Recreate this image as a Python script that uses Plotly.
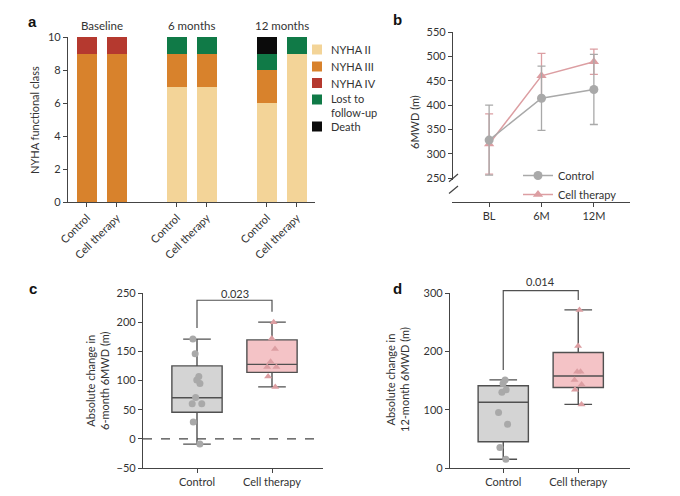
import plotly.graph_objects as go

W, H = 680, 496
FONT = "Lato"
AXIS_COL = "#444444"
TEXT_COL = "#333333"

# ---- panel a: NYHA class counts per arm (10 patients each)
timepoints = ["Baseline", "6 months", "12 months"]
arms = ["Control", "Cell therapy"]
nyha_names = ["NYHA II", "NYHA III", "NYHA IV", "Lost to<br>follow-up", "Death"]
# bar order: baseline ctrl, baseline cell, 6m ctrl, 6m cell, 12m ctrl, 12m cell
nyha_ii = [0, 0, 7, 7, 6, 9]
nyha_iii = [9, 9, 2, 2, 2, 0]
nyha_iv = [1, 1, 0, 0, 0, 0]
lost_fu = [0, 0, 1, 1, 1, 1]
death = [0, 0, 0, 0, 1, 0]
nyha_colors = ["#f3d498", "#d8822c", "#b5392f", "#107a47", "#0b0b0b"]

# ---- panel b: 6MWD over time (mean, sd)
visits = ["BL", "6M", "12M"]
ctrl_6mwd = [328, 414, 432]
ctrl_6mwd_sd = [72, 66, 72]
cell_6mwd = [320, 460, 489]
cell_6mwd_sd = [62, 46, 26]

# ---- panel c: change in 6MWD at 6 months
c_ctrl = [171, 146, 107, 101, 95, 71, 60, 60, 29, -9]
c_cell = [200, 172, 154, 132, 123, 123, 107, 89]
# q1, median, q3, lower whisker, upper whisker
c_ctrl_box = [45.5, 70.5, 125, -9, 171]
c_cell_box = [114, 127.7, 169.6, 89, 200]
c_pval = "0.023"

# ---- panel d: change in 6MWD at 12 months
d_ctrl = [151, 145, 134, 130, 95, 75, 35, 15]
d_cell = [271, 209, 165, 165, 151, 143, 134, 109]
d_ctrl_box = [45, 112.6, 141, 15, 151]
d_cell_box = [138, 157.7, 198, 109, 271]
d_pval = "0.014"

GRAY = "#a9a9a9"
PINK = "#dc9ea2"
BOX_LINE = "#505050"

# the page body adds an 8px margin, so screen px are shifted back by that
OFF = 8


def fx(px):
    return (px - OFF) / W


def fy(py):
    return 1 - (py - OFF) / H


fig = go.Figure()

# ---------------- a
xpos = [g * 3 + a for g in range(len(timepoints)) for a in range(len(arms))]
for name, vals, col in zip(nyha_names, [nyha_ii, nyha_iii, nyha_iv, lost_fu, death], nyha_colors):
    fig.add_trace(go.Bar(x=xpos, y=vals, name=name, marker_color=col,
                         marker_line_width=0, width=0.67, xaxis="x", yaxis="y",
                         showlegend=False, hoverinfo="skip"))

# ---------------- b
fig.add_trace(go.Scatter(x=visits, y=cell_6mwd, name="Cell therapy", mode="lines+markers",
                         line=dict(color=PINK, width=1.5),
                         marker=dict(symbol="triangle-up", size=9, color=PINK),
                         error_y=dict(type="data", array=cell_6mwd_sd, color=PINK,
                                      thickness=1.3, width=4),
                         xaxis="x2", yaxis="y2", legendrank=2))
fig.add_trace(go.Scatter(x=visits, y=ctrl_6mwd, name="Control", mode="lines+markers",
                         line=dict(color=GRAY, width=1.5),
                         marker=dict(symbol="circle", size=9, color=GRAY),
                         error_y=dict(type="data", array=ctrl_6mwd_sd, color=GRAY,
                                      thickness=1.3, width=4),
                         xaxis="x2", yaxis="y2", legendrank=1))


# ---------------- c and d boxes
def add_boxes(xa, ya, ctrl_pts, cell_pts, ctrl_box, cell_box):
    for arm, pts, st, fill, col, sym in [
        (arms[0], ctrl_pts, ctrl_box, "#d4d4d4", GRAY, "circle"),
        (arms[1], cell_pts, cell_box, "#f4c3c6", PINK, "triangle-up"),
    ]:
        fig.add_trace(go.Box(x=[arm], q1=[st[0]], median=[st[1]], q3=[st[2]],
                             lowerfence=[st[3]], upperfence=[st[4]],
                             fillcolor=fill, line=dict(color=BOX_LINE, width=1.4),
                             width=0.67, whiskerwidth=0.55, boxpoints=False,
                             showlegend=False, xaxis=xa, yaxis=ya))
        fig.add_trace(go.Box(x=[arm] * len(pts), y=pts, boxpoints="all", jitter=0.25,
                             pointpos=0, fillcolor="rgba(0,0,0,0)",
                             line=dict(color="rgba(0,0,0,0)", width=0),
                             marker=dict(symbol=sym, size=7, color=col),
                             width=0.67, showlegend=False, xaxis=xa, yaxis=ya))


add_boxes("x3", "y4", c_ctrl, c_cell, c_ctrl_box, c_cell_box)
add_boxes("x4", "y5", d_ctrl, d_cell, d_ctrl_box, d_cell_box)

# ---------------- axes
ax = dict(showline=True, linecolor=AXIS_COL, linewidth=1.2, ticks="outside", ticklen=4,
          tickcolor=AXIS_COL, tickwidth=1.2, showgrid=False, zeroline=False,
          automargin=False, tickfont=dict(size=11, color=TEXT_COL, family=FONT))

c_rng = [-50, 250]
d_rng = [0, 300]
c_xrng = [-0.72, 1.68]
d_xrng = [-0.71, 1.69]

fig.update_layout(
    xaxis=dict(ax, domain=[fx(68), fx(315)], range=[-0.63, 7.6], tickvals=xpos,
               ticktext=arms * len(timepoints), tickangle=-45, anchor="y"),
    yaxis=dict(ax, domain=[fy(202), fy(37)], range=[0, 10], dtick=2, anchor="x"),
    xaxis2=dict(ax, domain=[fx(453), fx(630)], range=[-0.69, 2.69], anchor="y3",
                type="category"),
    yaxis2=dict(ax, domain=[fy(180), fy(32)], range=[246, 550],
                tickvals=[250, 300, 350, 400, 450, 500, 550], anchor="x2"),
    yaxis3=dict(ax, domain=[fy(207), fy(190)], range=[0, 10], tickvals=[0], anchor="x2"),
    xaxis3=dict(ax, domain=[fx(143), fx(323)], range=c_xrng, anchor="y4",
                type="category", categoryorder="array", categoryarray=arms),
    yaxis4=dict(ax, domain=[fy(468), fy(293)], range=c_rng, dtick=50, anchor="x3"),
    xaxis4=dict(ax, domain=[fx(450), fx(630)], range=d_xrng, anchor="y5",
                type="category", categoryorder="array", categoryarray=arms),
    yaxis5=dict(ax, domain=[fy(468), fy(293)], range=d_rng, dtick=100, anchor="x4"),
)


def frac(v, rng):
    return (v - rng[0]) / (rng[1] - rng[0])


# ---------------- shapes: zero line, brackets, axis break, legend swatches
shapes = [
    dict(type="line", xref="x3 domain", yref="y4", x0=0, x1=1, y0=0, y1=0,
         line=dict(color=AXIS_COL, width=1.1, dash="dash")),
]


def bracket(xa, ya, xrng, yrng, y_left, y_top, y_right):
    path = "M{},{} L{},{} L{},{} L{},{}".format(
        frac(0, xrng), frac(y_left, yrng), frac(0, xrng), frac(y_top, yrng),
        frac(1, xrng), frac(y_top, yrng), frac(1, xrng), frac(y_right, yrng))
    return dict(type="path", xref=xa + " domain", yref=ya + " domain", path=path,
                line=dict(color=BOX_LINE, width=1.2))


shapes.append(bracket("x3", "y4", c_xrng, c_rng, 190, 237.6, 218))
shapes.append(bracket("x4", "y5", d_xrng, d_rng, 168, 304, 288))
for y0, y1 in [(181.7, 174), (193.5, 186)]:
    shapes.append(dict(type="line", xref="paper", yref="paper", x0=fx(449), x1=fx(458),
                       y0=fy(y0), y1=fy(y1), line=dict(color=AXIS_COL, width=1.2)))

# legend for a, drawn by hand to keep the tight row spacing
leg_rows = [49.5, 66.5, 83, 99.5, 126.5]
ann = []
for name, col, row in zip(nyha_names, nyha_colors, leg_rows):
    shapes.append(dict(type="rect", xref="paper", yref="paper", x0=fx(312), x1=fx(322),
                       y0=fy(row + 5), y1=fy(row - 5), fillcolor=col, line_width=0))
    n_lines = name.count("<br>") + 1
    ann.append(dict(text=name, xref="paper", yref="paper", x=fx(329),
                    y=fy(row + 6.5 * (n_lines - 1)), xanchor="left", yanchor="middle",
                    align="left", showarrow=False, font=dict(size=11, color=TEXT_COL)))
fig.update_layout(shapes=shapes)

# ---------------- annotations
for i, t in enumerate(timepoints):
    ann.append(dict(text=t, xref="x", yref="y", x=i * 3 + 0.5, y=10, yanchor="bottom",
                    yshift=3, showarrow=False, font=dict(size=11.5, color=TEXT_COL)))
for letter, x, y in [("a", 32, 21), ("b", 397, 20), ("c", 33, 288), ("d", 397, 288)]:
    ann.append(dict(text="<b>{}</b>".format(letter), xref="paper", yref="paper",
                    x=fx(x), y=fy(y), xanchor="center", yanchor="middle", showarrow=False,
                    font=dict(size=15, color="#111111", family="Liberation Sans")))
for text, x, y in [("NYHA functional class", 34, 120), ("6MWD (m)", 414, 122),
                   ("Absolute change in<br>6-month 6MWD (m)", 97, 381),
                   ("Absolute change in<br>12-month 6MWD (m)", 397, 380)]:
    ann.append(dict(text=text, xref="paper", yref="paper", x=fx(x), y=fy(y),
                    xanchor="center", yanchor="middle", textangle=-90, showarrow=False,
                    font=dict(size=11, color=TEXT_COL)))
ann.append(dict(text=c_pval, xref="x3", yref="y4 domain", x=0.5, y=frac(249, c_rng),
                yanchor="middle", showarrow=False, font=dict(size=11, color=TEXT_COL)))
ann.append(dict(text=d_pval, xref="x4", yref="y5 domain", x=0.5, y=frac(319, d_rng),
                yanchor="middle", showarrow=False, font=dict(size=11, color=TEXT_COL)))
fig.update_layout(annotations=ann)

fig.update_layout(
    width=W, height=H, margin=dict(l=0, r=0, t=0, b=0, autoexpand=False),
    paper_bgcolor="white", plot_bgcolor="white",
    barmode="stack", bargap=0,
    font=dict(family=FONT, size=11, color=TEXT_COL),
    legend=dict(x=fx(518), y=fy(161), xanchor="left", yanchor="top",
                traceorder="normal", bgcolor="rgba(0,0,0,0)",
                font=dict(size=11, color=TEXT_COL)),
)

fig.write_html("out.html")
